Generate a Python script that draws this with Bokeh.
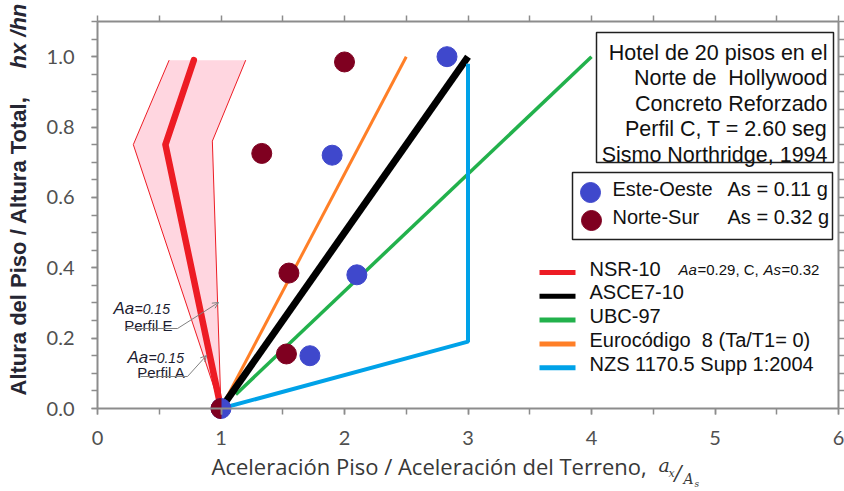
from math import pi

from bokeh.embed import file_html
from bokeh.models import (Arrow, BoxAnnotation, FixedTicker, Label, LinearAxis,
                          NumeralTickFormatter, OpenHead, Range1d)
from bokeh.plotting import figure
from bokeh.resources import INLINE

# ---------------------------------------------------------------------------
# Data: floor acceleration ratio a_x/A_s versus relative height h_x/h_n
# ---------------------------------------------------------------------------
# NSR-10 (Aa=0.29, perfil C, As=0.32)
nsr_x = [1.0, 0.55, 0.78]
nsr_y = [0.0, 0.75, 0.99]
# NSR-10 envelope for Aa=0.15: perfil A (lower bound) and perfil E (upper bound)
nsr_a_x = [1.0, 0.29, 0.58]
nsr_a_y = [0.0, 0.75, 0.99]
nsr_e_x = [1.0, 0.93, 1.20]
nsr_e_y = [0.0, 0.76, 0.99]
# ASCE 7-10
asce_x = [1.0, 3.0]
asce_y = [0.0, 1.0]
# UBC-97
ubc_x = [1.12, 4.0]
ubc_y = [0.04, 1.0]
# Eurocodigo 8 (Ta/T1 = 0)
ec8_x = [1.0, 2.5]
ec8_y = [0.0, 1.0]
# NZS 1170.5 Supp 1:2004
nzs_x = [1.0, 3.0, 3.0]
nzs_y = [0.0, 0.19, 0.98]
# Recorded response, Northridge 1994
eo_x = [1.0, 1.72, 2.10, 1.90, 2.83]      # Este-Oeste, As = 0.11 g
eo_y = [0.0, 0.15, 0.38, 0.72, 1.00]
ns_x = [1.0, 1.53, 1.55, 1.33, 2.00]      # Norte-Sur, As = 0.32 g
ns_y = [0.0, 0.155, 0.385, 0.725, 0.985]

x_ticks = [0, 1, 2, 3, 4, 5, 6]
y_ticks = [0.0, 0.2, 0.4, 0.6, 0.8, 1.0]

title_lines = ["Hotel de 20 pisos en el", "Norte de\u00a0 Hollywood", "Concreto Reforzado",
               "Perfil C, T = 2.60 seg", "Sismo Northridge, 1994"]
code_names = ["NSR-10", "ASCE7-10", "UBC-97", "Eurocódigo\u00a0 8 (Ta/T1= 0)",
              "NZS 1170.5 Supp 1:2004"]

# ---------------------------------------------------------------------------
# Styles
# ---------------------------------------------------------------------------
RED, BLACK, GREEN, ORANGE, BLUE = "#ed1c24", "#000000", "#22b14c", "#ff7f27", "#00a2e8"
PINK = "#ffd6e0"
EO_COLOR, NS_COLOR = "#3f48cc", "#7f0020"
AXIS_GRAY = "#8c8c8c"
SANS = "Liberation Sans"
TICK_FONT = "Lato"
TEXT = "#111111"

# plotting box: data 0..6 x 0..1.1 occupies canvas pixels [97, 838] x [21, 408]
XMIN, XMAX, YMIN, YMAX = 0.0, 6.0, 0.0, 1.1
LEFT, TOP, FW, FH = 97, 21, 741, 387
W, H = 844, 491


def dx(px):
    """canvas pixel column -> data x"""
    return XMIN + (px - LEFT) / FW * (XMAX - XMIN)


def dy(py):
    """canvas pixel row -> data y"""
    return YMAX - (py - TOP) / FH * (YMAX - YMIN)


# the frame spans the whole canvas; axes sit at fixed data locations so that
# axis titles and notes can be placed freely around the plotting box
p = figure(width=W, height=H, output_backend="svg", toolbar_location=None,
           x_range=Range1d(dx(0), dx(W)), y_range=Range1d(dy(H), dy(0)),
           x_axis_type=None, y_axis_type=None,
           min_border_left=0, min_border_top=0, min_border_right=0, min_border_bottom=0)
p.xgrid.visible = False
p.ygrid.visible = False
p.outline_line_color = None
p.background_fill_color = "white"
p.border_fill_color = "white"

x_minor = [i * 0.5 for i in range(13)]
y_minor = [round(i * 0.05, 2) for i in range(23)]


def style_axis(ax):
    ax.axis_line_color = AXIS_GRAY
    ax.axis_line_width = 2
    ax.major_tick_line_color = AXIS_GRAY
    ax.minor_tick_line_color = AXIS_GRAY
    ax.major_tick_line_width = 1.5
    ax.minor_tick_line_width = 1.5
    ax.major_tick_out = 6
    ax.major_tick_in = 0
    ax.minor_tick_out = 6
    ax.minor_tick_in = 0
    ax.major_label_text_font = TICK_FONT
    ax.major_label_text_font_size = "20px"
    ax.major_label_text_color = "#505050"


xb = LinearAxis(ticker=FixedTicker(ticks=x_ticks, minor_ticks=x_minor),
                fixed_location=YMIN, bounds=(XMIN, XMAX))
style_axis(xb)
xb.major_label_standoff = 16
p.add_layout(xb, "below")

xt = LinearAxis(ticker=FixedTicker(ticks=[], minor_ticks=x_minor),
                fixed_location=YMAX, bounds=(XMIN, XMAX))
style_axis(xt)
p.add_layout(xt, "above")

yl = LinearAxis(ticker=FixedTicker(ticks=y_ticks, minor_ticks=y_minor),
                formatter=NumeralTickFormatter(format="0.0"),
                fixed_location=XMIN, bounds=(YMIN, YMAX))
style_axis(yl)
yl.major_label_standoff = 17
p.add_layout(yl, "left")

yr = LinearAxis(ticker=FixedTicker(ticks=[], minor_ticks=y_minor),
                fixed_location=XMAX, bounds=(YMIN, YMAX))
style_axis(yr)
p.add_layout(yr, "right")

# ---------------------------------------------------------------------------
# NSR-10 envelope band and curves
# ---------------------------------------------------------------------------
p.patch(x=nsr_a_x + nsr_e_x[::-1], y=nsr_a_y + nsr_e_y[::-1],
        fill_color=PINK, line_color=None)
p.line(nsr_a_x, nsr_a_y, line_color=RED, line_width=1)
p.line(nsr_e_x, nsr_e_y, line_color=RED, line_width=1)
p.line(nsr_x, nsr_y, line_color=RED, line_width=6.5, line_join="round", line_cap="round")

p.line(ec8_x, ec8_y, line_color=ORANGE, line_width=3)
p.line(ubc_x, ubc_y, line_color=GREEN, line_width=3.5)
p.line(asce_x, asce_y, line_color=BLACK, line_width=7)
p.line(nzs_x, nzs_y, line_color=BLUE, line_width=4)

# recorded points
p.scatter(eo_x, eo_y, size=20, color=EO_COLOR)
p.scatter(ns_x[1:], ns_y[1:], size=20, color=NS_COLOR)
# both records start at the ground: split the shared marker in halves
p.wedge(x=ns_x[:1], y=ns_y[:1], radius=10, radius_units="screen",
        start_angle=pi / 2, end_angle=3 * pi / 2, color=NS_COLOR)

# ---------------------------------------------------------------------------
# Notes on the NSR-10 envelope
# ---------------------------------------------------------------------------
NOTE_COLOR = "#1c1c30"
ARROW_GRAY = "#808080"


def note(px, py, text, size, style="normal", align="left"):
    p.add_layout(Label(x=dx(px), y=dy(py), text=text, text_font=SANS,
                       text_font_size=size, text_font_style=style, text_align=align,
                       text_baseline="alphabetic", text_color=NOTE_COLOR))


def pointer(x0, y0, x1, y1, tip):
    p.add_layout(Arrow(end=None, x_start=dx(x0), y_start=dy(y0), x_end=dx(x1), y_end=dy(y0),
                       line_color=ARROW_GRAY, line_width=1))
    p.add_layout(Arrow(end=OpenHead(size=6, line_color=ARROW_GRAY, line_width=1),
                       x_start=dx(x1), y_start=dy(y0), x_end=dx(tip[0]), y_end=dy(tip[1]),
                       line_color=ARROW_GRAY, line_width=1))


note(113, 308, "Aa", "17px", "italic")
note(134, 308, "=0.15", "14px", "italic")
note(172, 325, "Perfil E", "15px", "normal", "right")
pointer(125, 328, 177, 328, (218, 302))

note(127, 357, "Aa", "17px", "italic")
note(148, 357, "=0.15", "14px", "italic")
note(185, 372, "Perfil A", "15px", "normal", "right")
pointer(140, 376, 187, 376, (206, 355))

# ---------------------------------------------------------------------------
# Title box
# ---------------------------------------------------------------------------
p.add_layout(BoxAnnotation(left=dx(596), right=dx(833), top=dy(32), bottom=dy(162),
                           fill_color="white", fill_alpha=1.0,
                           line_color="#202020", line_alpha=1.0, line_width=1.5))
for i, line in enumerate(title_lines):
    p.add_layout(Label(x=dx(827), y=dy(52 + 25.5 * i), text=line, text_align="right",
                       text_baseline="alphabetic", text_font=SANS,
                       text_font_size="21.5px", text_color=TEXT))

# ---------------------------------------------------------------------------
# Record legend box
# ---------------------------------------------------------------------------
p.add_layout(BoxAnnotation(left=dx(572), right=dx(832), top=dy(172), bottom=dy(239),
                           fill_color="white", fill_alpha=1.0,
                           line_color="#202020", line_alpha=1.0, line_width=1.5))
rec_rows = [(192, 590, EO_COLOR, "Este-Oeste", "As = 0.11 g"),
            (220, 591, NS_COLOR, "Norte-Sur", "As = 0.32 g")]
for row_py, cx, color, name, acc in rec_rows:
    p.scatter([dx(cx)], [dy(row_py)], size=20, color=color, level="overlay")
    p.add_layout(Label(x=dx(612), y=dy(row_py + 7), text=name, text_font=SANS,
                       text_font_size="20px", text_color=TEXT))
    p.add_layout(Label(x=dx(727), y=dy(row_py + 7), text=acc, text_font=SANS,
                       text_font_size="20px", text_color=TEXT))

# ---------------------------------------------------------------------------
# Design-code legend (no frame)
# ---------------------------------------------------------------------------
code_colors = [RED, BLACK, GREEN, ORANGE, BLUE]
for i, (name, color) in enumerate(zip(code_names, code_colors)):
    row_py = 272 + 23.8 * i
    p.segment(x0=[dx(539)], y0=[dy(row_py)], x1=[dx(575)], y1=[dy(row_py)],
              line_color=color, line_width=5)
    p.add_layout(Label(x=dx(589), y=dy(row_py + 7), text=name, text_font=SANS,
                       text_font_size="20px", text_color=TEXT))

# NSR-10 parameters next to its legend entry
for px_, txt, style in [(678, "Aa", "italic"), (697, "=0.29, C, ", "normal"),
                        (763, "As", "italic"), (781, "=0.32", "normal")]:
    p.add_layout(Label(x=dx(px_), y=dy(277), text=txt, text_font=SANS,
                       text_font_size="15px", text_font_style=style, text_color=TEXT))

# ---------------------------------------------------------------------------
# Axis titles
# ---------------------------------------------------------------------------
p.add_layout(Label(x=dx(211), y=dy(480), text="Aceleración Piso / Aceleración del Terreno,",
                   text_font="Open Sans", text_font_size="22px", text_color="#383838"))
for px_, py_, txt, size in [(658, 475, "a", "19px"), (668, 479, "x", "11px"),
                            (674, 484, "/", "21px"), (683, 486, "A", "14px"),
                            (694, 488, "s", "9px")]:
    p.add_layout(Label(x=dx(px_), y=dy(py_), text=txt, text_font="DejaVu Serif",
                       text_font_size=size, text_font_style="italic", text_color="#383838"))

p.add_layout(Label(x=dx(18), y=dy(395), text="Altura del Piso / Altura Total,",
                   angle=pi / 2, text_align="left", text_baseline="middle",
                   text_font=SANS, text_font_size="22px", text_font_style="bold",
                   text_color="#262633"))
p.add_layout(Label(x=dx(18), y=dy(68), text="hx /hn",
                   angle=pi / 2, text_align="left", text_baseline="middle",
                   text_font=SANS, text_font_size="22px", text_font_style="bold italic",
                   text_color="#262633"))

open("out.html", "w").write(file_html(p, INLINE))
